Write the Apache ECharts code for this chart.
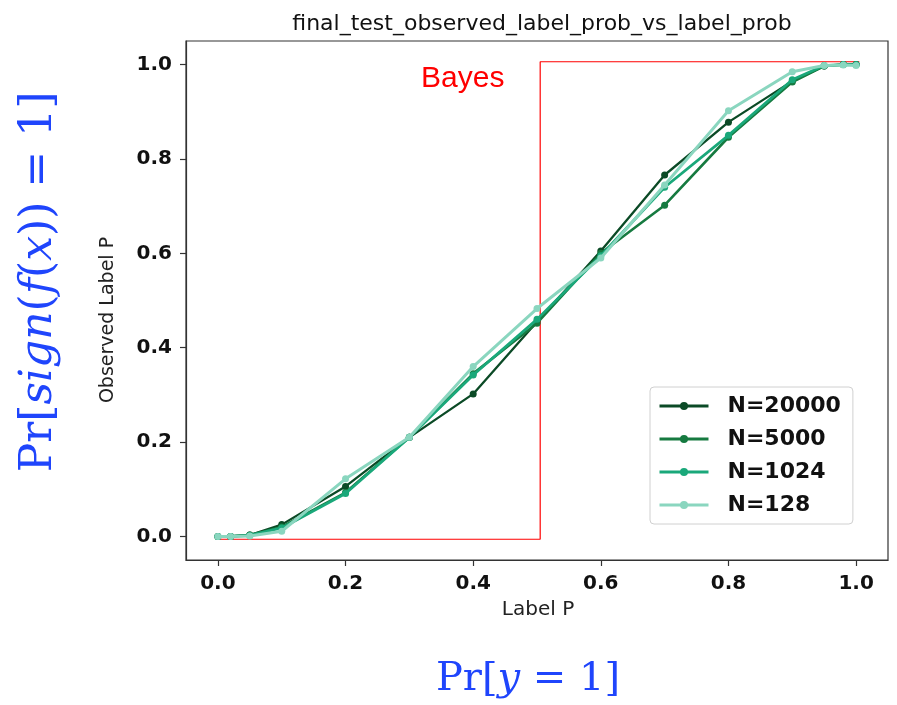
<!DOCTYPE html>
<html><head><meta charset="UTF-8">
<title>final_test_observed_label_prob_vs_label_prob</title>
<script src="https://cdn.jsdelivr.net/npm/echarts@6/dist/echarts.min.js"></script>
<style>
html, body { margin: 0; padding: 0; background: #fff; }
#g1 { width: 897px; height: 705px; }
</style>
</head>
<body>
<div id="g1"></div>
<script type="text/javascript">
// label probability (x) shared by every run
var labelP = [0, 0.02, 0.05, 0.1, 0.2, 0.3, 0.4, 0.5, 0.6, 0.7, 0.8, 0.9, 0.95, 0.98, 1.0];
// observed label probability per training size
var n20000 = [0, 0, 0.003, 0.025, 0.106, 0.21, 0.302, 0.455, 0.605, 0.766, 0.878, 0.965, 0.997, 1.0, 1.0];
var n5000  = [0, 0, 0.003, 0.02, 0.093, 0.21, 0.345, 0.452, 0.600, 0.702, 0.846, 0.963, 0.997, 1.0, 1.0];
var n1024  = [0, 0, 0.002, 0.018, 0.091, 0.21, 0.342, 0.46, 0.595, 0.74, 0.85, 0.968, 0.998, 1.0, 1.0];
var n128   = [0, 0, 0.001, 0.011, 0.122, 0.21, 0.36, 0.483, 0.59, 0.745, 0.902, 0.985, 0.998, 0.999, 0.998];
// bayes step as drawn (slightly offset in the figure)
var bayesX = [0, 0.505, 0.505, 1.005];
var bayesY = [-0.006, -0.006, 1.006, 1.006];
var tickVals = [0, 0.2, 0.4, 0.6, 0.8, 1.0];
var names = ['N=20000', 'N=5000', 'N=1024', 'N=128'];
var colors = ['#0b4a26', '#167a40', '#1aa87a', '#8ad6bf'];
var widths = [2.3, 2.6, 2.8, 3.0];

function pairs(xs, ys) {
    var out = [];
    for (var i = 0; i < xs.length; i++) out.push([xs[i], ys[i]]);
    return out;
}

var seriesData = [n20000, n5000, n1024, n128];
var series = [{
    name: 'Bayes', type: 'line', data: pairs(bayesX, bayesY),
    showSymbol: false, silent: true, z: 1,
    lineStyle: { color: '#ff0000', width: 1.2 }, itemStyle: { color: '#ff0000' }
}];
for (var k = 0; k < names.length; k++) {
    series.push({
        name: names[k], type: 'line', data: pairs(labelP, seriesData[k]),
        symbol: 'circle', symbolSize: 7, z: 2 + k,
        lineStyle: { color: colors[k], width: widths[k] },
        itemStyle: { color: colors[k] }
    });
}

var axisCommon = {
    type: 'value', min: -0.05, max: 1.05,
    splitLine: { show: false },
    axisLine: { show: true, onZero: false, lineStyle: { color: '#333', width: 1.2 } },
    axisTick: { show: true, customValues: tickVals, length: 6, lineStyle: { color: '#333', width: 1.2 } },
    axisLabel: {
        customValues: tickVals, color: '#111', fontFamily: 'DejaVu Sans', fontWeight: 'bold', fontSize: 20,
        margin: 14,
        formatter: function (v) { return v.toFixed(1); }
    }
};

var serif = 'DejaVu Serif';
var blue = '#1f45fc';

var option = {
    animation: false,
    backgroundColor: '#fff',
    title: {
        text: 'final_test_observed_label_prob_vs_label_prob',
        left: 537, top: 8, textAlign: 'center',
        textStyle: { fontFamily: 'DejaVu Sans', fontWeight: 'normal', fontSize: 22, color: '#111' }
    },
    grid: { left: 186, right: 9, top: 41, bottom: 145, show: true, borderColor: '#333', borderWidth: 1.2, containLabel: false },
    xAxis: axisCommon,
    yAxis: axisCommon,
    legend: {
        data: names, orient: 'vertical', left: 650, top: 387,
        itemWidth: 49, itemHeight: 10, itemGap: 11,
        padding: [8, 12, 8, 8],
        lineStyle: { width: 3 },
        backgroundColor: 'rgba(255,255,255,0.85)', borderColor: '#d0d0d0', borderWidth: 1, borderRadius: 4,
        textStyle: { fontFamily: 'DejaVu Sans', fontWeight: 'bold', fontSize: 22, color: '#111', padding: [0, 0, 0, 14] }
    },
    graphic: [
        {
            type: 'text', left: 421, top: 64, z: 10,
            style: { text: 'Bayes', fill: '#ff0000', font: '30px "Liberation Sans", Arial, sans-serif' }
        },
        {
            type: 'text', x: 538, y: 610, z: 10,
            style: { text: 'Label P', fill: '#222', align: 'center', verticalAlign: 'middle',
                     font: '20px "DejaVu Sans", sans-serif' }
        },
        {
            type: 'text', x: 108, y: 320, rotation: Math.PI / 2, z: 10,
            style: { text: 'Observed Label P', fill: '#222', align: 'center', verticalAlign: 'middle',
                     font: '19px "DejaVu Sans", sans-serif' }
        },
        {
            type: 'text', x: 40, y: 282, rotation: Math.PI / 2, z: 10,
            style: {
                text: '{n|Pr[}{i|sign}{n|(}{i|f}{n|(}{i|x}{n|)) = 1]}',
                align: 'center', verticalAlign: 'middle',
                rich: {
                    n: { fontFamily: serif, fontSize: 44, fill: blue },
                    i: { fontFamily: serif, fontStyle: 'italic', fontSize: 44, fill: blue }
                }
            }
        },
        {
            type: 'text', x: 528, y: 680, z: 10,
            style: {
                text: '{n|Pr[}{i|y}{n| = 1]}',
                align: 'center', verticalAlign: 'middle',
                rich: {
                    n: { fontFamily: serif, fontSize: 40, fill: blue },
                    i: { fontFamily: serif, fontStyle: 'italic', fontSize: 40, fill: blue }
                }
            }
        }
    ],
    series: series
};

var myChart = echarts.init(document.getElementById('g1'));
myChart.setOption(option);
</script>
</body></html>
